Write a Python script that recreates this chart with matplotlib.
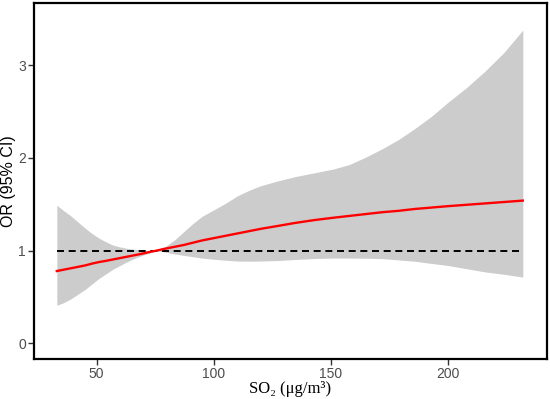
import numpy as np
import matplotlib
matplotlib.use("Agg")
from matplotlib import pyplot as plt

# values
so2 = [33, 36, 39, 42, 45, 48, 51, 54, 57, 60, 63, 66, 69, 72, 75.5, 79, 83,
       87, 91, 95, 100, 105, 110, 115, 120, 127, 135, 143, 151, 158, 165, 172,
       179, 186, 193, 200, 208, 216, 224, 232]
or_fit = [0.78, 0.795, 0.81, 0.825, 0.84, 0.86, 0.877, 0.89, 0.905, 0.92,
          0.935, 0.95, 0.965, 0.982, 1.0, 1.02, 1.04, 1.06, 1.085, 1.11,
          1.135, 1.16, 1.185, 1.21, 1.235, 1.265, 1.30, 1.33, 1.355, 1.375,
          1.395, 1.415, 1.43, 1.45, 1.465, 1.48, 1.495, 1.51, 1.525, 1.54]
ci_low = [0.41, 0.44, 0.48, 0.53, 0.58, 0.64, 0.70, 0.75, 0.80, 0.84, 0.88,
          0.915, 0.945, 0.97, 1.0, 0.985, 0.965, 0.95, 0.935, 0.92, 0.907,
          0.897, 0.888, 0.886, 0.888, 0.893, 0.905, 0.915, 0.92, 0.92, 0.918,
          0.914, 0.90, 0.885, 0.862, 0.84, 0.805, 0.77, 0.745, 0.715]
ci_high = [1.49, 1.43, 1.375, 1.31, 1.245, 1.185, 1.135, 1.095, 1.06, 1.04,
           1.025, 1.015, 1.008, 1.003, 1.0, 1.04, 1.11, 1.20, 1.29, 1.37,
           1.44, 1.51, 1.59, 1.65, 1.70, 1.75, 1.80, 1.84, 1.88, 1.93, 2.01,
           2.10, 2.20, 2.32, 2.45, 2.60, 2.76, 2.94, 3.14, 3.38]
xticks = [50, 100, 150, 200]
yticks = [0, 1, 2, 3]

fig = plt.figure(figsize=(5.5, 3.99), dpi=100)
ax = fig.add_axes([0.062, 0.1, 0.932, 0.892])

ax.fill_between(so2, ci_low, ci_high, color="#CCCCCC", linewidth=0)
ax.hlines(1, so2[0], so2[-1], color="black", linestyle=(0, (3.6, 2.4)),
          linewidth=1.4)
ax.plot(so2, or_fit, color="#FF0000", linewidth=1.7)

ax.set_xlim(23.3, 242.2)
ax.set_ylim(-0.17, 3.67)
ax.set_xticks(xticks)
ax.set_yticks(yticks)

for s in ax.spines.values():
    s.set_linewidth(1.6)
    s.set_color("black")
ax.tick_params(length=4, width=1, color="#333333", labelcolor="#4D4D4D",
               labelsize=10, pad=2)
for lab in ax.get_xticklabels() + ax.get_yticklabels():
    lab.set_family("Liberation Sans")

ax.set_xlabel("SO\u2082 (\u03bcg/m\u00b3)", fontsize=12, va="center",
              family=["Liberation Serif", "DejaVu Serif"])
ax.set_ylabel("OR (95% CI)", family="Liberation Sans", fontsize=11.5,
              va="center")
ax.xaxis.set_label_coords(0.5, -0.084)
ax.yaxis.set_label_coords(-0.049, 0.5)

fig.savefig("out.png", dpi=100)
